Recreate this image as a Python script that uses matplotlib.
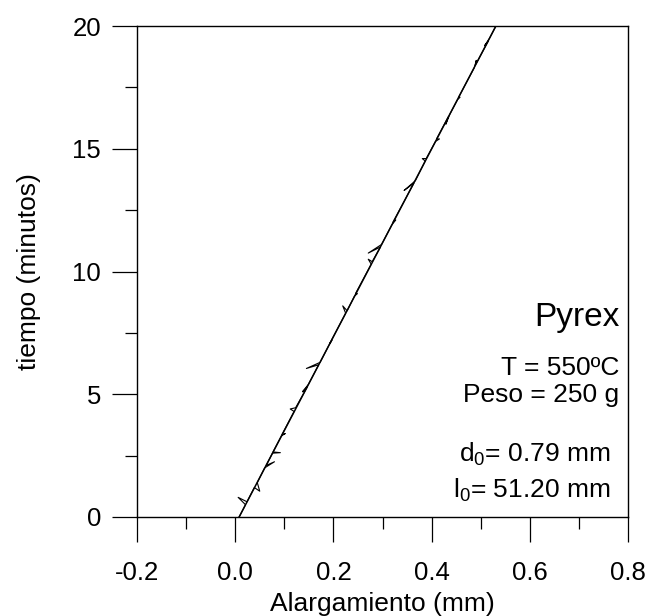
import matplotlib
matplotlib.use("Agg")
import matplotlib.pyplot as plt
from matplotlib.ticker import MultipleLocator

plt.rcParams['font.family'] = ['Liberation Sans', 'DejaVu Sans']
plt.rcParams['mathtext.fontset'] = 'custom'
plt.rcParams['mathtext.rm'] = 'Liberation Sans'
plt.rcParams['mathtext.it'] = 'Liberation Sans:italic'

# datos medidos: alargamiento (mm) y tiempo (minutos)
alargamiento = [0.008, 0.021, 0.006, 0.024, 0.039, 0.050, 0.045, 0.060, 0.080, 0.063,
                0.076, 0.092, 0.077, 0.094, 0.102, 0.095, 0.120, 0.112, 0.123, 0.147,
                0.137, 0.149, 0.170, 0.145, 0.173, 0.191, 0.197, 0.192, 0.225, 0.219,
                0.228, 0.243, 0.249, 0.245, 0.277, 0.271, 0.279, 0.296, 0.271, 0.298,
                0.319, 0.327, 0.321, 0.364, 0.344, 0.367, 0.387, 0.381, 0.389, 0.408,
                0.416, 0.410, 0.434, 0.429, 0.437, 0.453, 0.458, 0.455, 0.487, 0.491,
                0.489, 0.516, 0.508, 0.518, 0.531]
tiempo = [0.00, 0.50, 0.80, 0.62, 1.20, 1.05, 1.40, 2.00, 2.25, 2.10,
          2.60, 2.62, 2.65, 3.30, 3.40, 3.35, 4.30, 4.40, 4.45, 5.30,
          5.10, 5.40, 6.20, 6.05, 6.30, 7.00, 7.20, 7.05, 8.30, 8.60,
          8.40, 9.00, 9.10, 9.10, 10.30, 10.50, 10.40, 11.00, 10.75, 11.10,
          11.90, 12.10, 12.00, 13.60, 13.30, 13.70, 14.50, 14.60, 14.60, 15.30,
          15.40, 15.40, 16.30, 16.00, 16.40, 17.00, 17.10, 17.10, 18.30, 18.60,
          18.40, 19.40, 19.20, 19.50, 20.00]

# ajuste lineal
ajuste_x = [0.008, 0.531]
ajuste_y = [0.0, 20.0]

fig = plt.figure(figsize=(6.49, 6.16), dpi=100)
ax = fig.add_axes([137 / 649, 99 / 616, 491 / 649, 491 / 616])

ax.plot(alargamiento, tiempo, color='black', lw=0.8)
ax.plot(ajuste_x, ajuste_y, color='black', lw=1.1)

ax.set_xlim(-0.2, 0.8)
ax.set_ylim(0, 20)
ax.xaxis.set_major_locator(MultipleLocator(0.2))
ax.xaxis.set_minor_locator(MultipleLocator(0.1))
ax.yaxis.set_major_locator(MultipleLocator(5))
ax.yaxis.set_minor_locator(MultipleLocator(2.5))
ax.xaxis.set_major_formatter(matplotlib.ticker.FormatStrFormatter('%.1f'))

ax.tick_params(which='major', direction='out', length=18, width=0.9, labelsize=18.5)
ax.tick_params(axis='x', which='major', pad=14)
ax.tick_params(axis='y', which='major', pad=8)
ax.tick_params(which='minor', direction='out', length=8.6, width=0.9)
for s in ax.spines.values():
    s.set_linewidth(1.0)

ax.set_xlabel('Alargamiento (mm)', fontsize=19)
ax.set_ylabel('tiempo (minutos)', fontsize=19)
ax.xaxis.set_label_coords(0.5, -0.152)
ax.yaxis.set_label_coords(-0.195, 0.5)

# textos
ax.text(0.982, 0.39, 'Pyrex', transform=ax.transAxes, ha='right', va='baseline', fontsize=24)
ax.text(0.982, 0.289, 'T = 550ºC', transform=ax.transAxes, ha='right', va='baseline', fontsize=19)
ax.text(0.982, 0.235, 'Peso = 250 g', transform=ax.transAxes, ha='right', va='baseline', fontsize=19)
ax.text(0.965, 0.113, r'd$_\mathrm{0}$= 0.79 mm', transform=ax.transAxes, ha='right', va='baseline', fontsize=19)
ax.text(0.965, 0.039, r'l$_\mathrm{0}$= 51.20 mm', transform=ax.transAxes, ha='right', va='baseline', fontsize=19)

plt.savefig('out.png', dpi=100)
plt.close()
